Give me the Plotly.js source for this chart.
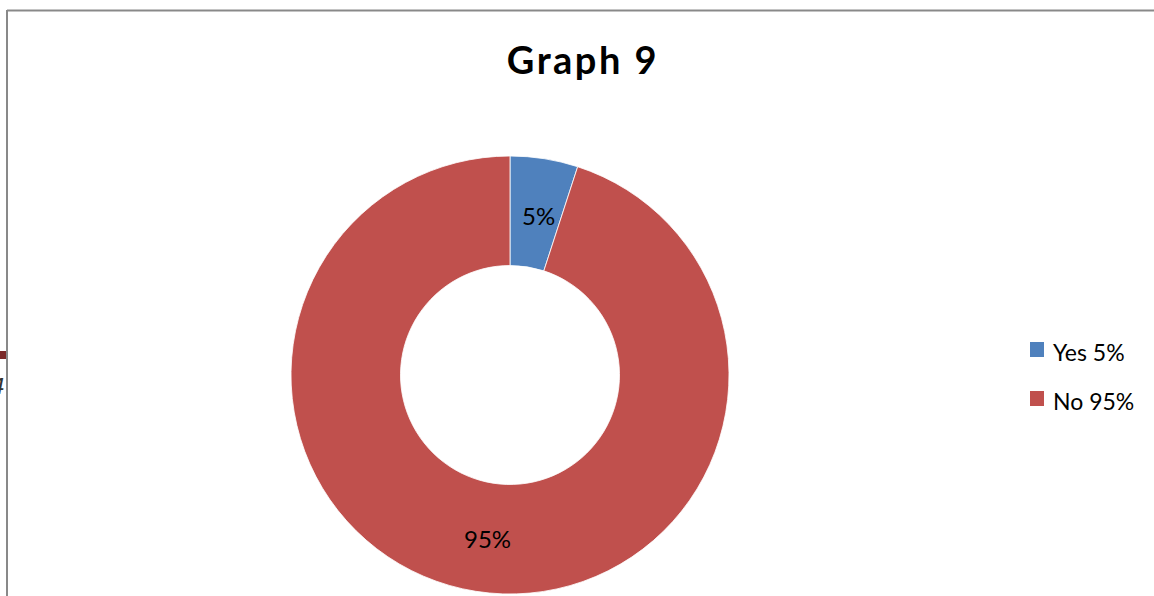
<!DOCTYPE html>
<html>
<head>
<meta charset="utf-8">
<script src="https://cdn.plot.ly/plotly-3.0.1.min.js"></script>
<style>
html,body{margin:0;padding:0;background:#fff;}
#chart{width:1154px;height:596px;}
.gtitle{letter-spacing:2.5px;}
</style>
</head>
<body>
<div id="chart"></div>
<script>
const categories = ["Yes", "No"];
const values = [5, 95];
const legendLabels = ["Yes 5%", "No 95%"];
const colors = ["#4F81BD", "#C0504D"];
const chartTitle = "Graph 9";

const W = 1154, H = 596;
const px = x => x / W;
const py = y => 1 - y / H;

const cx = 510, cy = 375, R = 219;

const trace = {
  type: "pie",
  labels: categories,
  values: values,
  marker: {colors: colors, line: {color: "#ffffff", width: 0.8}},
  hole: 0.5,
  sort: false,
  direction: "clockwise",
  rotation: 0,
  textinfo: "none",
  hoverinfo: "none",
  showlegend: false,
  domain: {x: [px(cx - R), px(cx + R)], y: [py(cy + R), py(cy - R)]}
};

const shapes = [
  {type: "line", xref: "paper", yref: "paper", x0: px(7), x1: 1, y0: py(10.5), y1: py(10.5), line: {color: "#898989", width: 2}},
  {type: "line", xref: "paper", yref: "paper", x0: px(7), x1: px(7), y0: py(10), y1: 0, line: {color: "#898989", width: 2}},
  {type: "rect", xref: "paper", yref: "paper", x0: 0, x1: px(6), y0: py(359), y1: py(351), line: {width: 0}, fillcolor: "#7B2A2A"}
];

const annotations = [
  {xref: "paper", yref: "paper", x: px(6.5), y: py(386), xanchor: "right", yanchor: "middle", text: "4", showarrow: false,
   font: {family: "'DejaVu Sans', sans-serif", size: 22, color: "#333333", style: "italic"}}
];

// percentage labels placed at each slice's mid-angle, computed from the values
const total = values.reduce((a, b) => a + b, 0);
let cum = 0;
const labelR = 166;
values.forEach((v, i) => {
  const mid = (cum + v / 2) / total * 2 * Math.PI;
  cum += v;
  const lx = cx + labelR * Math.sin(mid) + 3;
  const ly = cy - labelR * Math.cos(mid) + (i === 0 ? 4 : 0);
  annotations.push({xref: "paper", yref: "paper", x: px(lx), y: py(ly), xanchor: "center", yanchor: "middle",
    text: Math.round(v / total * 100) + "%", showarrow: false,
    font: {family: "Lato, 'Open Sans', sans-serif", size: 24, color: "#000000"}});
});

// manual legend built from the category arrays
const legendTop = [342, 391];
legendLabels.forEach((lab, i) => {
  shapes.push({type: "rect", xref: "paper", yref: "paper",
    x0: px(1030), x1: px(1044), y0: py(legendTop[i] + 15), y1: py(legendTop[i]),
    line: {width: 0}, fillcolor: colors[i]});
  annotations.push({xref: "paper", yref: "paper", x: px(1051), y: py(legendTop[i] + 10), xanchor: "left", yanchor: "middle",
    text: lab, showarrow: false, font: {family: "Lato, 'Open Sans', sans-serif", size: 23, color: "#000000"}});
});

const layout = {
  width: W, height: H,
  margin: {l: 0, r: 0, t: 0, b: 0},
  paper_bgcolor: "#ffffff",
  title: {text: "<b>" + chartTitle + "</b>", x: px(583), xanchor: "center", y: py(61), yanchor: "middle", yref: "container",
    font: {family: "Lato, 'Open Sans', sans-serif", size: 38, color: "#000000"}},
  showlegend: false,
  shapes: shapes,
  annotations: annotations
};

Plotly.newPlot("chart", [trace], layout, {displayModeBar: false, staticPlot: true});
</script>
</body>
</html>
